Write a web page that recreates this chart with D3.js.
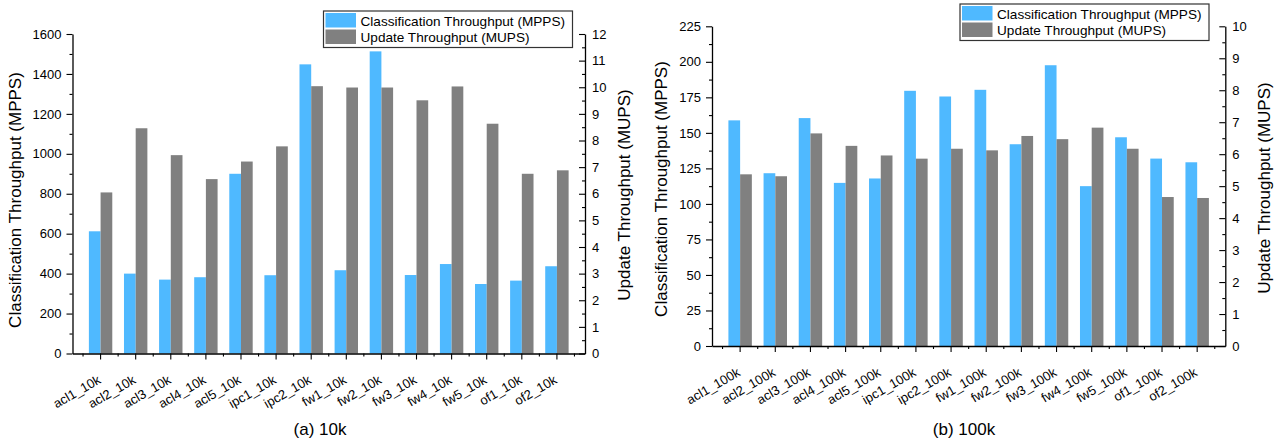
<!DOCTYPE html>
<html>
<head>
<meta charset="utf-8">
<script src="https://cdn.jsdelivr.net/npm/d3@7"></script>
<style>
  html, body { margin: 0; padding: 0; background: #fff; }
  svg { display: block; font-family: "Liberation Sans", Arial, sans-serif; }
</style>
</head>
<body>
<script>
// ---------------- data ----------------
const categories10k = ["acl1_10k","acl2_10k","acl3_10k","acl4_10k","acl5_10k","ipc1_10k","ipc2_10k","fw1_10k","fw2_10k","fw3_10k","fw4_10k","fw5_10k","of1_10k","of2_10k"];
const mpps10k = [612, 400, 370, 382, 900, 392, 1448, 417, 1513, 393, 448, 348, 365, 437];
const mups10k = [6.05, 8.46, 7.45, 6.55, 7.21, 7.78, 10.04, 9.99, 9.99, 9.51, 10.03, 8.63, 6.75, 6.88];

const categories100k = ["acl1_100k","acl2_100k","acl3_100k","acl4_100k","acl5_100k","ipc1_100k","ipc2_100k","fw1_100k","fw2_100k","fw3_100k","fw4_100k","fw5_100k","of1_100k","of2_100k"];
const mpps100k = [158.8, 121.6, 160.4, 114.8, 117.9, 179.6, 175.6, 180.3, 142, 197.6, 112.5, 146.9, 131.9, 129.3];
const mups100k = [5.37, 5.31, 6.65, 6.26, 5.96, 5.86, 6.17, 6.12, 6.57, 6.47, 6.83, 6.17, 4.66, 4.63];

const ticksMPPS10k = [0, 200, 400, 600, 800, 1000, 1200, 1400, 1600];
const ticksMUPS10k = [0, 1, 2, 3, 4, 5, 6, 7, 8, 9, 10, 11, 12];
const ticksMPPS100k = [0, 25, 50, 75, 100, 125, 150, 175, 200, 225];
const ticksMUPS100k = [0, 1, 2, 3, 4, 5, 6, 7, 8, 9, 10];

const seriesNames = ["Classification Throughput (MPPS)", "Update Throughput (MUPS)"];
const leftTitle = "Classification Throughput (MPPS)";
const rightTitle = "Update Throughput (MUPS)";
const captions = ["(a) 10k", "(b) 100k"];

// ---------------- drawing ----------------
const BLUE = "#4FB9FF";
const GRAY = "#808080";
const AX = "#000";

const svg = d3.select("body").append("svg").attr("width", 1281).attr("height", 443);

function midpoints(t) {
  const m = [];
  for (let i = 0; i < t.length - 1; i++) m.push((t[i] + t[i + 1]) / 2);
  return m;
}

function panel(o) {
  const g = svg.append("g");
  const x = d3.scaleBand().domain(o.cats).range([o.x0, o.x1]).paddingInner(0).paddingOuter(0.3);
  const yL = d3.scaleLinear().domain([0, d3.max(o.lTicks)]).range([o.yB, o.yT]);
  const yR = d3.scaleLinear().domain([0, d3.max(o.rTicks)]).range([o.yB, o.yT]);
  const w = x.step() / 3;
  const cx = d => x(d) + x.bandwidth() / 2;

  // bars
  g.append("g").selectAll("rect").data(o.cats).join("rect")
    .attr("x", d => cx(d) - w)
    .attr("y", (d, i) => yL(o.mpps[i]))
    .attr("width", w)
    .attr("height", (d, i) => yL(0) - yL(o.mpps[i]))
    .attr("fill", BLUE);
  g.append("g").selectAll("rect").data(o.cats).join("rect")
    .attr("x", d => cx(d))
    .attr("y", (d, i) => yR(o.mups[i]))
    .attr("width", w)
    .attr("height", (d, i) => yR(0) - yR(o.mups[i]))
    .attr("fill", GRAY);

  const styleAxis = sel => {
    sel.selectAll("path").attr("stroke", AX).attr("stroke-width", 1.3);
    sel.selectAll("line").attr("stroke", AX).attr("stroke-width", 1.1);
    sel.selectAll("text").attr("fill", "#000").style("font-family", '"Liberation Sans", Arial, sans-serif');
  };

  // left axis
  g.append("g").attr("transform", `translate(${o.x0},0)`)
    .call(d3.axisLeft(yL).tickValues(midpoints(o.lTicks)).tickSize(3).tickSizeOuter(0).tickFormat(""))
    .call(s => s.select("path").remove())
    .call(styleAxis);
  g.append("g").attr("transform", `translate(${o.x0},0)`)
    .call(d3.axisLeft(yL).tickValues(o.lTicks).tickSize(6).tickSizeOuter(0).tickPadding(5).tickFormat(d3.format("d")))
    .call(styleAxis)
    .call(s => s.selectAll("text").attr("font-size", 13));

  // right axis (ticks pointing inward)
  g.append("g").attr("transform", `translate(${o.x1},0)`)
    .call(d3.axisRight(yR).tickValues(midpoints(o.rTicks)).tickSize(-3).tickSizeOuter(0).tickFormat(""))
    .call(s => s.select("path").remove())
    .call(styleAxis);
  g.append("g").attr("transform", `translate(${o.x1},0)`)
    .call(d3.axisRight(yR).tickValues(o.rTicks).tickSize(-6).tickSizeOuter(0).tickPadding(7).tickFormat(d3.format("d")))
    .call(styleAxis)
    .call(s => s.selectAll("text").attr("font-size", 13));

  // bottom axis
  const bottom = g.append("g").attr("transform", `translate(0,${o.yB})`)
    .call(d3.axisBottom(x).tickSize(6).tickSizeOuter(0).tickPadding(0))
    .call(styleAxis);
  bottom.selectAll("text")
    .attr("font-size", 13)
    .attr("text-anchor", "end")
    .attr("x", 0).attr("y", 0).attr("dy", 0)
    .attr("transform", "translate(1,29) rotate(-30)");
  // minor ticks at band boundaries
  const bounds = o.cats.map(c => x(c) - x.step() * x.paddingInner() / 2);
  bounds.push(x(o.cats[o.cats.length - 1]) + x.step());
  bottom.selectAll("line.minor").data(bounds).join("line").attr("class", "minor")
    .attr("x1", d => d).attr("x2", d => d).attr("y1", 0).attr("y2", 3)
    .attr("stroke", AX).attr("stroke-width", 1.1);

  // axis titles
  g.append("text").attr("transform", `translate(${o.lTitleX},${o.lTitleY}) rotate(-90)`)
    .attr("text-anchor", "middle").attr("font-size", 17).text(leftTitle);
  g.append("text").attr("transform", `translate(${o.rTitleX},${o.rTitleY}) rotate(-90)`)
    .attr("text-anchor", "middle").attr("font-size", 17).text(rightTitle);

  // caption
  g.append("text").attr("x", o.capX).attr("y", 435).attr("text-anchor", "middle")
    .attr("font-size", 17).text(o.caption);

  // legend
  const lg = g.append("g").attr("transform", `translate(${o.legX},${o.legY})`);
  lg.append("rect").attr("x", 0).attr("y", 0).attr("width", 249).attr("height", 36.5)
    .attr("fill", "#fff").attr("stroke", "#333").attr("stroke-width", 1.2);
  const colors = [BLUE, GRAY];
  seriesNames.forEach((name, i) => {
    lg.append("rect").attr("x", 2).attr("y", 2 + i * 16.5).attr("width", 30.5).attr("height", 14.5)
      .attr("fill", colors[i]);
    lg.append("text").attr("x", 37).attr("y", 15 + i * 16.3).attr("font-size", 13.6).text(name);
  });
}

panel({
  cats: categories10k, mpps: mpps10k, mups: mups10k,
  lTicks: ticksMPPS10k, rTicks: ticksMUPS10k,
  x0: 72.5, x1: 585, yT: 34, yB: 353.5,
  lTitleX: 21, lTitleY: 200, rTitleX: 630, rTitleY: 195,
  capX: 320, caption: captions[0],
  legX: 323.5, legY: 11
});

panel({
  cats: categories100k, mpps: mpps100k, mups: mups100k,
  lTicks: ticksMPPS100k, rTicks: ticksMUPS100k,
  x0: 712, x1: 1225.3, yT: 26.3, yB: 346,
  lTitleX: 667, lTitleY: 189, rTitleX: 1270, rTitleY: 188,
  capX: 964, caption: captions[1],
  legX: 960, legY: 4
});
</script>
</body>
</html>
